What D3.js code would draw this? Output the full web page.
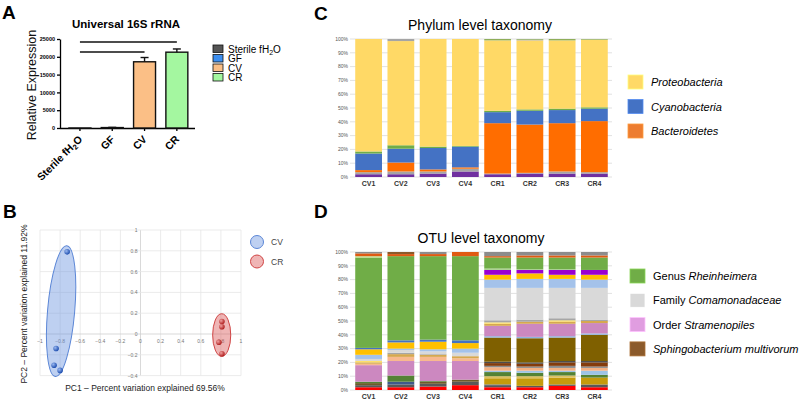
<!DOCTYPE html>
<html>
<head>
<meta charset="utf-8">
<script src="https://cdn.jsdelivr.net/npm/d3@7"></script>
<style>
  body { margin: 0; background: #fff; }
  svg { display: block; font-family: Arial, "Liberation Sans", Helvetica, sans-serif; }
</style>
</head>
<body>
<div id="vis"></div>
<script>
// ---- panel A data
const qpcrGroups = ['Sterile fH2O', 'GF', 'CV', 'CR']
const qpcrMeans = [0, 120, 18600, 21300]
const qpcrErrors = [0, 60, 1200, 900]
const qpcrTicks = [0, 5000, 10000, 15000, 20000, 25000]

// ---- panel B data (PC1, PC2)
const pcaCV = [[-0.73, 0.79], [-0.84, -0.14], [-0.86, -0.30], [-0.80, -0.35]]
const pcaCR = [[0.81, 0.12], [0.81, 0.07], [0.78, -0.08], [0.81, -0.19]]
// ellipse: centre x, centre y, radius x, radius y (data units), tilt in degrees
const ellipseCV = [-0.79, 0.22, 0.135, 0.63, 5]
const ellipseCR = [0.808, -0.01, 0.09, 0.205, 0]
const pcaXTicks = [-1, -0.8, -0.6, -0.4, -0.2, 0, 0.2, 0.4, 0.6, 0.8, 1]
const pcaYTicks = [-0.4, -0.2, 0, 0.2, 0.4, 0.6, 0.8, 1]

// ---- panel C / D data
const samples = ['CV1', 'CV2', 'CV3', 'CV4', 'CR1', 'CR2', 'CR3', 'CR4']
const pctTicks = [0, 10, 20, 30, 40, 50, 60, 70, 80, 90, 100]

const phylumNames = ['Other (purple)', 'Other (grey)', 'Bacteroidetes', 'Cyanobacteria', 'Other (green)', 'Proteobacteria', 'Other (top grey)', 'Other (top green)']
const phylumValues = [
  [2, 2, 2.5, 4, 2, 2.5, 2.5, 2.5],
  [1.5, 2, 1.5, 2, 0.5, 0.5, 1.5, 1],
  [1.5, 6.5, 1.5, 1, 36.5, 35, 35, 37],
  [12, 10, 15.5, 15, 8, 10, 9.5, 9],
  [1.5, 2.5, 1, 0.5, 1, 1, 1, 1],
  [81.5, 75.5, 78, 77.5, 51, 50, 49.5, 49],
  [0, 1.5, 0, 0, 0, 0.5, 0, 0],
  [0, 0, 0, 0, 1, 0.5, 1, 0.5]
]
const phylumColors = ['#7030a0', '#a5a5a5', '#ff6d00', '#4472c4', '#70ad47', '#ffd966', '#a5a5a5', '#8fae5a']
const phylumLegend = ['Proteobacteria', 'Cyanobacteria', 'Bacteroidetes']
const phylumLegendColors = ['#ffd966', '#4472c4', '#ed7d31']

const otuNames = ['OTU 1', 'OTU 2', 'OTU 3', 'OTU 4', 'OTU 5', 'OTU 6', 'OTU 7', 'OTU 8', 'OTU 9', 'OTU 10',
  'OTU 11', 'OTU 12', 'Sphingobacterium multivorum', 'OTU 14', 'Order Stramenopiles', 'OTU 16', 'OTU 17',
  'OTU 18', 'OTU 19', 'Family Comamonadaceae', 'OTU 21', 'OTU 22', 'OTU 23', 'OTU 24', 'OTU 25',
  'Genus Rheinheimera', 'OTU 27', 'OTU 28', 'OTU 29', 'OTU 30']
const otuValues = [
  [2, 2, 2.5, 3.5, 2, 2, 3, 2],
  [1.5, 2, 2, 2.5, 1.5, 1, 1, 2],
  [0, 2, 0, 0, 0.5, 0, 0, 0],
  [1.5, 0, 1.5, 1.5, 0, 0, 0, 0],
  [0, 0, 0, 0, 4.5, 5.5, 5, 5],
  [0, 0, 0, 0, 1.5, 1.5, 1.5, 0],
  [1, 4.5, 0.5, 0, 3, 2.5, 2.5, 2],
  [0, 0, 0, 0, 1, 1.5, 1, 3],
  [0, 0, 0, 0, 2.5, 2, 2, 2],
  [0, 0, 0, 0, 1, 1, 1.5, 1],
  [0, 0, 0, 0, 2, 2, 2.5, 3],
  [0, 0, 0, 0, 1, 1, 1, 1],
  [0, 0, 0, 0, 17.5, 17.5, 17, 19],
  [0, 0, 0, 0, 1, 1, 1, 1],
  [12, 10.5, 14.5, 13.5, 7.5, 9.5, 9, 7.5],
  [1, 3, 3, 2, 0, 0, 0, 0],
  [1, 2, 1.5, 1.5, 1.5, 1.5, 1.5, 1.5],
  [1, 0, 0, 0, 1, 0, 1, 0],
  [0, 1, 0.5, 0, 1.5, 1.5, 1.5, 1],
  [1.5, 2, 2, 2.5, 23.5, 23, 22, 23],
  [3, 1, 1.5, 3, 6, 6.5, 6.5, 6],
  [4, 4.5, 5.5, 4, 3.5, 4, 3, 3.5],
  [1, 1.5, 1.5, 2, 0, 0, 0, 0],
  [0, 0, 0, 0, 3.5, 2.5, 3.5, 3.5],
  [0, 0, 0, 0, 1, 0.5, 0.5, 0],
  [65.5, 61, 60.5, 61, 8, 8.5, 8.5, 9],
  [1, 0, 0, 0, 0, 0, 0, 0],
  [2, 1.5, 1.5, 3, 1, 1.5, 1.5, 1.5],
  [0, 1.5, 0, 0, 0, 0, 0, 0],
  [1, 0, 1.5, 0, 3, 2.5, 2.5, 2.5]
]
const otuColors = ['#ff0000', '#595959', '#3f5a8a', '#6d5b2a', '#c59b0c', '#dcc060', '#548235', '#9dc3e6',
  '#f4b183', '#8c8c8c', '#843c0c', '#4d4d4d', '#7f6000', '#8fb3e0', '#cc88c0', '#f8b98f', '#d6a84f',
  '#ffe066', '#a6a6a6', '#d9d9d9', '#a4c2ea', '#ffc000', '#4472c4', '#9a00d0', '#a9d18e', '#70ad47',
  '#c5dc8a', '#e05a12', '#8b5a2b', '#8c8c8c']
const otuLegend = [['Genus ', 'Rheinheimera'], ['Family ', 'Comamonadaceae'], ['Order ', 'Stramenopiles'], ['', 'Sphingobacterium multivorum']]
const otuLegendColors = ['#70ad47', '#d9d9d9', '#e09de0', '#8b5a2b']

const width = 800
const height = 401

const svg = d3.select('#vis').append('svg')
  .attr('width', width).attr('height', height)
  .attr('viewBox', [0, 0, width, height])

const panelLabel = (txt, x, y) => svg.append('text')
  .attr('x', x).attr('y', y)
  .attr('font-size', 19).attr('font-weight', 'bold')
  .text(txt)

// ================= A =================
const drawA = () => {
  const g = svg.append('g')
  const x = d3.scaleBand().domain(qpcrGroups).range([62.5, 194.3])
    .paddingInner(0.32).paddingOuter(0.2)
  const y = d3.scaleLinear().domain([0, 25000]).range([128, 39])
  const fills = ['#555555', '#3d8ff0', '#fbbf86', '#a4f7a0']

  g.append('text').attr('x', 126).attr('y', 28).attr('text-anchor', 'middle')
    .attr('font-size', 11.5).attr('font-weight', 'bold').text('Universal 16S rRNA')

  g.append('text').attr('transform', 'translate(36,85) rotate(-90)')
    .attr('text-anchor', 'middle').attr('font-size', 12.5).attr('fill', '#111')
    .text('Relative Expression')

  const yAxis = g.append('g').attr('transform', 'translate(60,0)')
    .call(d3.axisLeft(y).tickValues(qpcrTicks).tickFormat(d3.format('d')).tickSize(3).tickPadding(2).tickSizeOuter(0))
  yAxis.selectAll('text').attr('font-size', 5.5).attr('font-weight', 'bold').attr('font-family', 'Arial, "Liberation Sans"')
  yAxis.selectAll('line,path').attr('stroke', '#000').attr('stroke-width', 1.3)

  const xAxis = g.append('g').attr('transform', 'translate(0,128)')
    .call(d3.axisBottom(x).tickSize(3).tickSizeOuter(0).tickFormat(''))
  xAxis.select('.domain').attr('d', 'M60,0.5H195')
  xAxis.selectAll('line,path').attr('stroke', '#000').attr('stroke-width', 1.3)

  qpcrGroups.forEach((grp, i) => {
    const t = g.append('text')
      .attr('transform', `translate(${x(grp) + x.bandwidth() / 2 + 3},${140}) rotate(-45)`)
      .attr('text-anchor', 'end').attr('font-size', 10.5).attr('font-weight', 'bold')
    if (grp === 'Sterile fH2O') {
      t.append('tspan').text('Sterile fH')
      t.append('tspan').attr('font-size', 7.5).attr('dy', 2).text('2')
      t.append('tspan').attr('dy', -2).text('O')
    } else {
      t.text(grp)
    }
  })

  g.selectAll('rect.bar').data(qpcrGroups).enter().append('rect')
    .attr('x', (d) => x(d))
    .attr('y', (d, i) => y(qpcrMeans[i]))
    .attr('width', x.bandwidth())
    .attr('height', (d, i) => Math.max(0.1, y(0) - y(qpcrMeans[i])))
    .attr('fill', (d, i) => fills[i])
    .attr('stroke', '#111').attr('stroke-width', 1.4)

  qpcrGroups.forEach((grp, i) => {
    if (!qpcrErrors[i]) return
    const cx = x(grp) + x.bandwidth() / 2
    g.append('line').attr('x1', cx).attr('x2', cx)
      .attr('y1', y(qpcrMeans[i])).attr('y2', y(qpcrMeans[i] + qpcrErrors[i]))
      .attr('stroke', '#111').attr('stroke-width', 1.4)
    g.append('line').attr('x1', cx - 4).attr('x2', cx + 4)
      .attr('y1', y(qpcrMeans[i] + qpcrErrors[i])).attr('y2', y(qpcrMeans[i] + qpcrErrors[i]))
      .attr('stroke', '#111').attr('stroke-width', 1.4)
  })

  // significance lines
  const mid = (k) => x(qpcrGroups[k]) + x.bandwidth() / 2
  g.append('line').attr('x1', mid(0)).attr('x2', mid(3)).attr('y1', 42).attr('y2', 42)
    .attr('stroke', '#111').attr('stroke-width', 1.6)
  g.append('line').attr('x1', mid(0)).attr('x2', mid(2)).attr('y1', 52).attr('y2', 52)
    .attr('stroke', '#111').attr('stroke-width', 1.6)

  // legend
  const lg = g.append('g').attr('transform', 'translate(213,45)')
  qpcrGroups.forEach((grp, i) => {
    lg.append('rect').attr('x', 0).attr('y', i * 9.5).attr('width', 10).attr('height', 7.5)
      .attr('fill', fills[i]).attr('stroke', '#111').attr('stroke-width', 0.8)
    const t = lg.append('text').attr('x', 15).attr('y', i * 9.5 + 7.5).attr('font-size', 10)
    if (grp === 'Sterile fH2O') {
      t.append('tspan').text('Sterile fH')
      t.append('tspan').attr('font-size', 7).attr('dy', 2).text('2')
      t.append('tspan').attr('dy', -2).text('O')
    } else {
      t.text(grp)
    }
  })
}

// ================= B =================
const drawB = () => {
  const g = svg.append('g')
  const x = d3.scaleLinear().domain([-1, 1]).range([40, 241])
  const y = d3.scaleLinear().domain([-0.4, 1]).range([375.6, 230])

  const defs = svg.append('defs')
  const grad = (id, c0, c1) => {
    const rg = defs.append('radialGradient').attr('id', id).attr('cx', '35%').attr('cy', '35%').attr('r', '65%')
    rg.append('stop').attr('offset', '0%').attr('stop-color', c0)
    rg.append('stop').attr('offset', '100%').attr('stop-color', c1)
  }
  grad('gcv', '#9ab8f0', '#1f4fb0')
  grad('gcr', '#f0a0a0', '#b01f1f')

  g.selectAll('line.vg').data(pcaXTicks).enter().append('line')
    .attr('x1', (d) => x(d)).attr('x2', (d) => x(d)).attr('y1', y(1)).attr('y2', y(-0.4))
    .attr('stroke', (d) => d === 0 ? '#cfcfcf' : '#e6e6e6').attr('stroke-width', 0.8)
  g.selectAll('line.hg').data(pcaYTicks).enter().append('line')
    .attr('x1', x(-1)).attr('x2', x(1)).attr('y1', (d) => y(d)).attr('y2', (d) => y(d))
    .attr('stroke', (d) => d === 0 ? '#cfcfcf' : '#e6e6e6').attr('stroke-width', 0.8)

  g.selectAll('text.xt').data(pcaXTicks).enter().append('text')
    .attr('x', (d) => x(d)).attr('y', y(0) + 9).attr('text-anchor', 'middle')
    .attr('font-size', 5).attr('fill', '#777').text((d) => d3.format('')(d))
  g.selectAll('text.yt').data(pcaYTicks).enter().append('text')
    .attr('x', x(0) - 3).attr('y', (d) => y(d) + 2).attr('text-anchor', 'end')
    .attr('font-size', 5).attr('fill', '#777').text((d) => d3.format('')(d))

  const ell = (e, fill, stroke) => {
    g.append('ellipse')
      .attr('transform', `translate(${x(e[0])},${y(e[1])}) rotate(${e[4]})`)
      .attr('rx', x(e[2]) - x(0)).attr('ry', y(0) - y(e[3]))
      .attr('fill', fill).attr('stroke', stroke).attr('stroke-width', 1)
  }
  ell(ellipseCV, 'rgba(110,150,225,0.45)', '#5b86d6')
  ell(ellipseCR, 'rgba(220,90,90,0.45)', '#d04545')

  g.selectAll('circle.cv').data(pcaCV).enter().append('circle')
    .attr('cx', (d) => x(d[0])).attr('cy', (d) => y(d[1])).attr('r', 2.8).attr('fill', 'url(#gcv)')
  g.selectAll('circle.cr').data(pcaCR).enter().append('circle')
    .attr('cx', (d) => x(d[0])).attr('cy', (d) => y(d[1])).attr('r', 2.8).attr('fill', 'url(#gcr)')

  g.append('text').attr('x', 145).attr('y', 391).attr('text-anchor', 'middle')
    .attr('font-size', 8.5).attr('fill', '#222').text('PC1 \u2013 Percent variation explained 69.56%')
  g.append('text').attr('transform', 'translate(27,304) rotate(-90)').attr('text-anchor', 'middle')
    .attr('font-size', 8.5).attr('fill', '#222').text('PC2 \u2013 Percent variation explained 11.92%')

  // legend
  const items = [['CV', 'rgba(110,150,225,0.45)', '#5b86d6'], ['CR', 'rgba(220,90,90,0.45)', '#d04545']]
  items.forEach((it, i) => {
    g.append('circle').attr('cx', 257).attr('cy', 242 + i * 19.5).attr('r', 6.5)
      .attr('fill', it[1]).attr('stroke', it[2]).attr('stroke-width', 1)
    g.append('text').attr('x', 271).attr('y', 245 + i * 19.5).attr('font-size', 8.5)
      .attr('fill', '#444').text(it[0])
  })
}

// ================= C / D stacked bars =================
const drawStack = (names, values, colors, top, bottom, labelY) => {
  const g = svg.append('g')
  const x = d3.scaleBand().domain(samples).range([352, 611]).paddingInner(0.17).paddingOuter(0.1)
  const y = d3.scaleLinear().domain([0, 100]).range([bottom, top])

  const table = samples.map((s, j) => {
    const row = { sample: s }
    names.forEach((n, i) => { row[n] = values[i][j] })
    return row
  })
  const series = d3.stack().keys(names)(table)

  g.selectAll('line.grid').data(pctTicks).enter().append('line')
    .attr('x1', 350).attr('x2', 612).attr('y1', (d) => y(d)).attr('y2', (d) => y(d))
    .attr('stroke', '#d4d4d4').attr('stroke-width', 0.7)
  g.selectAll('text.tick').data(pctTicks).enter().append('text')
    .attr('x', 348).attr('y', (d) => y(d) + 1.8).attr('text-anchor', 'end')
    .attr('font-size', 5).attr('fill', '#555').text((d) => d + '%')

  g.selectAll('g.layer').data(series).enter().append('g')
    .attr('fill', (d, i) => colors[i])
    .selectAll('rect').data((d) => d).enter().append('rect')
    .attr('x', (d) => x(d.data.sample))
    .attr('width', x.bandwidth())
    .attr('y', (d) => y(d[1]))
    .attr('height', (d) => y(d[0]) - y(d[1]))

  g.selectAll('text.lab').data(samples).enter().append('text')
    .attr('x', (d) => x(d) + x.bandwidth() / 2).attr('y', labelY)
    .attr('text-anchor', 'middle').attr('font-size', 7).attr('font-weight', 'bold').attr('fill', '#333')
    .text((d) => d)
}

const drawC = () => {
  svg.append('text').attr('x', 480).attr('y', 30).attr('text-anchor', 'middle')
    .attr('font-size', 14).text('Phylum level taxonomy')
  drawStack(phylumNames, phylumValues, phylumColors, 39, 177, 186)
  phylumLegend.forEach((n, i) => {
    svg.append('rect').attr('x', 628).attr('y', 75 + i * 24.5).attr('width', 15).attr('height', 14)
      .attr('fill', phylumLegendColors[i]).attr('stroke', d3.color(phylumLegendColors[i]).brighter(0.6)).attr('stroke-width', 0.8)
    svg.append('text').attr('x', 651).attr('y', 86 + i * 24.5).attr('font-size', 11)
      .attr('font-style', 'italic').text(n)
  })
}

const drawD = () => {
  svg.append('text').attr('x', 481).attr('y', 243).attr('text-anchor', 'middle')
    .attr('font-size', 14).text('OTU level taxonomy')
  drawStack(otuNames, otuValues, otuColors, 252, 390, 399)
  otuLegend.forEach((n, i) => {
    svg.append('rect').attr('x', 630).attr('y', 269 + i * 24.3).attr('width', 15).attr('height', 14)
      .attr('fill', otuLegendColors[i]).attr('stroke', d3.color(otuLegendColors[i]).brighter(0.6)).attr('stroke-width', 0.8)
    const t = svg.append('text').attr('x', 653).attr('y', 280 + i * 24.3).attr('font-size', 11)
    if (n[0]) t.append('tspan').text(n[0])
    t.append('tspan').attr('font-style', 'italic').text(n[1])
  })
}

panelLabel('A', 2, 19)
panelLabel('B', 3, 218)
panelLabel('C', 314, 20)
panelLabel('D', 314, 218)
drawA()
drawB()
drawC()
drawD()
</script>
</body>
</html>
